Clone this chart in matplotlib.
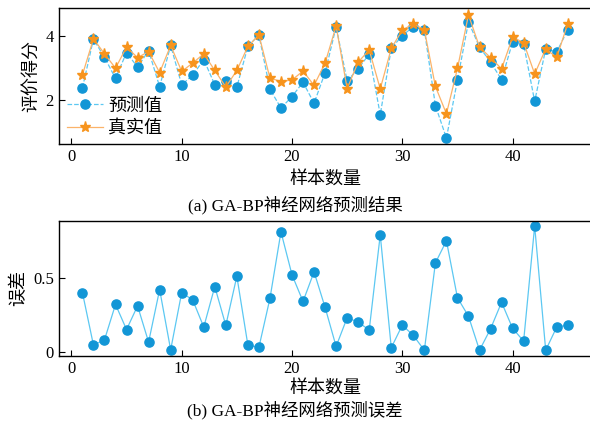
import matplotlib
matplotlib.use("Agg")
import matplotlib.pyplot as plt
import numpy as np

plt.rcParams['font.family'] = ['Liberation Serif', 'Noto Sans CJK SC']
plt.rcParams['mathtext.fontset'] = 'stix'

# 样本编号
samples = np.arange(1, 46)
# 预测值
pred = [2.37, 3.90, 3.33, 2.67, 3.48, 3.02, 3.54, 2.41, 3.70, 2.47,
        2.77, 3.26, 2.47, 2.59, 2.40, 3.67, 4.03, 2.33, 1.74, 2.10,
        2.55, 1.89, 2.85, 4.29, 2.59, 2.97, 3.43, 1.53, 3.61, 4.01,
        4.29, 4.19, 1.82, 0.80, 2.62, 4.44, 3.65, 3.18, 2.63, 3.81,
        3.75, 1.95, 3.59, 3.50, 4.19]
# 真实值
true = [2.78, 3.91, 3.44, 2.99, 3.65, 3.32, 3.51, 2.85, 3.70, 2.89,
        3.15, 3.44, 2.92, 2.40, 2.92, 3.67, 4.03, 2.68, 2.57, 2.62,
        2.90, 2.45, 3.15, 4.31, 2.35, 3.18, 3.56, 2.34, 3.61, 4.18,
        4.38, 4.19, 2.42, 1.56, 2.98, 4.66, 3.65, 3.32, 2.97, 3.96,
        3.79, 2.81, 3.59, 3.33, 4.38]
# 误差
err = [0.40, 0.045, 0.08, 0.32, 0.15, 0.31, 0.065, 0.42, 0.013, 0.40,
       0.35, 0.167, 0.44, 0.178, 0.51, 0.045, 0.03, 0.36, 0.81, 0.52,
       0.34, 0.54, 0.30, 0.036, 0.23, 0.20, 0.147, 0.79, 0.027, 0.18,
       0.11, 0.01, 0.60, 0.75, 0.365, 0.24, 0.01, 0.155, 0.334, 0.158,
       0.072, 0.85, 0.01, 0.167, 0.18]

blue = '#1296d6'
lblue = '#5cc8f2'
orange = '#f7941d'
lorange = '#fbb36a'

fig = plt.figure(figsize=(5.9, 4.23), dpi=100)
ax1 = fig.add_axes([0.0995, 0.66, 0.903, 0.32])
ax2 = fig.add_axes([0.0995, 0.159, 0.903, 0.319])

ax1.plot(samples, pred, linestyle='--', color=lblue, lw=0.9, marker='o',
         markersize=6.6, markerfacecolor=blue, markeredgecolor=blue, label='预测值')
ax1.plot(samples, true, linestyle='-', color=lorange, lw=0.9, marker='*',
         markersize=8, markerfacecolor=orange, markeredgecolor=orange, label='真实值')
ax1.set_xlim(-1.15, 47.15)
ax1.set_ylim(0.62, 4.86)
ax1.set_yticks([2, 4])
ax1.set_xticks([0, 10, 20, 30, 40])
ax1.set_ylabel('评价得分', fontsize=13, labelpad=4)
ax1.set_xlabel('样本数量', fontsize=13, labelpad=4)
leg = ax1.legend(loc='lower left', bbox_to_anchor=(-0.005, -0.03), frameon=False,
                 fontsize=13, handlelength=2.0, handletextpad=0.3, labelspacing=0.3,
                 borderaxespad=0.2)
fig.text(0.5, 0.515, '(a) GA-BP神经网络预测结果', ha='center', va='center', fontsize=12.5)

ax2.plot(samples, err, linestyle='-', color=lblue, lw=0.9, marker='o',
         markersize=6.6, markerfacecolor=blue, markeredgecolor=blue)
ax2.set_xlim(-1.15, 47.15)
ax2.set_ylim(-0.027, 0.885)
ax2.set_yticks([0, 0.5])
ax2.set_yticklabels(['0', '0.5'])
ax2.set_xticks([0, 10, 20, 30, 40])
ax2.set_ylabel('误差', fontsize=13, labelpad=4)
ax2.set_xlabel('样本数量', fontsize=13, labelpad=2)
fig.text(0.5, 0.03, '(b) GA-BP神经网络预测误差', ha='center', va='center', fontsize=12.5)

for ax in (ax1, ax2):
    ax.tick_params(direction='in', length=4, width=0.8, labelsize=12, top=False, right=False)
    for s in ax.spines.values():
        s.set_linewidth(1.0)
    ax.spines['right'].set_visible(False)

fig.savefig('out.png', dpi=100)
